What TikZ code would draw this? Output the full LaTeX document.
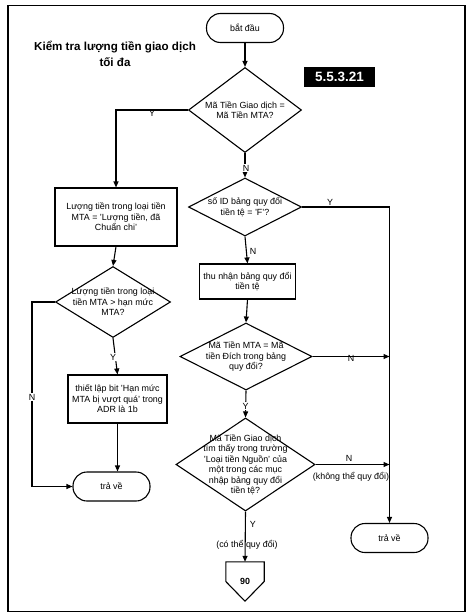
\documentclass[tikz,border=0pt]{standalone}
\usepackage{fontspec}
\setmainfont{Liberation Sans}
\usetikzlibrary{arrows.meta,calc,shapes.geometric}
\tikzset{
  x=1pt,y=-1pt,
  line/.style={line width=1.1pt,draw=black},
  arr/.style={line, -{Triangle[length=6pt,width=5pt]}},
  txt/.style={font=\fontsize{8.9}{10.5}\selectfont, align=center, inner sep=0pt},
  procbox/.style={line, rectangle, inner sep=0pt, txt},
  termbox/.style={line, rectangle, rounded corners=14pt, inner sep=0pt, txt, minimum width=77pt, minimum height=29pt},
  dia/.style={line, diamond, inner sep=0pt},
  lbl/.style={font=\fontsize{8.9}{10}\selectfont, inner sep=0.6pt},
  lblw/.style={lbl, fill=white},
}
\begin{document}
\begin{tikzpicture}
\useasboundingbox (0,0) rectangle (470,615);
% frame
\node[draw, line width=1.5pt, minimum width=457pt, minimum height=606pt, inner sep=0pt] (frame) at (236.5,308.5) {};
% title
\node[font=\bfseries\fontsize{11.6}{16.5}\selectfont, align=center, inner sep=0pt] (title) at (115,54) {Kiểm tra lượng tiền giao dịch\\tối đa};
% section label
\node[fill=black, text=white, font=\bfseries\fontsize{13.5}{14}\selectfont, minimum width=71pt, minimum height=20pt, inner sep=0pt] (sec) at (339.5,77) {5.5.3.21};
% start
\node[termbox] (start) at (245,28) {bắt đầu};
% decision 1
\node[dia, minimum width=113pt, minimum height=85pt, label={[txt]center:Mã Tiền Giao dịch =\\Mã Tiền MTA?}] (d1) at (245,110) {};
% decision 2
\node[dia, minimum width=113pt, minimum height=58pt, label={[txt]center:số ID bảng quy đổi\\tiền tệ = 'F'?}] (d2) at (245,207) {};
% box 1
\node[procbox, minimum width=122pt, minimum height=58pt] (b1) at (116,217) {Lượng tiền trong loại tiền\\MTA = 'Lượng tiền, đã\\Chuẩn chi'};
% decision 3
\node[dia, minimum width=115pt, minimum height=71pt, label={[txt]center:Lượng tiền trong loại\\tiền MTA > hạn mức\\MTA?}] (d3) at (113,302) {};
% box 3
\node[procbox, minimum width=99pt, minimum height=48pt] (b3) at (117.5,399) {thiết lập bit 'Hạn mức\\MTA bị vượt quá' trong\\ADR là 1b};
% return left
\node[termbox] (r1) at (111.5,486.5) {trả về};
% box 2
\node[procbox, minimum width=96pt, minimum height=35pt] (b2) at (247.5,281.5) {thu nhận bảng quy đổi\\tiền tệ};
% decision 4
\node[dia, minimum width=132pt, minimum height=67pt, label={[txt]center:Mã Tiền MTA = Mã\\tiền Đích trong bảng\\quy đổi?}] (d4) at (246,356.5) {};
% decision 5
\node[dia, minimum width=139pt, minimum height=93pt, label={[txt]center:Mã Tiền Giao dịch\\tìm thấy trong trường\\'Loại tiền Nguồn' của\\một trong các mục\\nhập bảng quy đổi\\tiền tệ?}] (d5) at (245.5,464.5) {};
% return right
\node[termbox] (r2) at (389.5,538) {trả về};
% off-page connector
\node[minimum width=38pt, minimum height=39pt, inner sep=0pt, font=\bfseries\fontsize{8.9}{10}\selectfont] (c90) at (245,581.5) {90};
\draw[line] (c90.north west) -- (c90.north east) -- (c90.east) -- (c90.south) -- (c90.west) -- cycle;

% connectors
\draw[arr] (start.south) -- (d1.north);
\draw[arr] (d1.west) -| (b1.north);
\node[lbl, anchor=north] (y1) at (152,110) {Y};
\draw[arr] (d1.south) -- (d2.north);
\node[lblw] (n1) at (246,168) {N};
\draw[arr] (d2.east) -| (r2.north);
\node[lbl, anchor=south] (y2) at (330,206) {Y};
\draw[arr] (d2.south) -- (b2.north);
\node[lbl, anchor=west] (n2) at (249,251) {N};
\draw[arr] (b2.south) -- (d4.north);
\coordinate (j4) at (r2.north |- d4.east);
\draw[arr] (d4.east) -- (j4);
\node[lbl, anchor=north] (n4) at (351,355) {N};
\draw[arr] (d4.south) -- (d5.north);
\node[lblw] (y4) at (245.5,406) {Y};
\coordinate (j5) at (r2.north |- d5.east);
\draw[arr] (d5.east) -- (j5);
\node[lbl, anchor=south] (n5) at (349,462) {N};
\node[lbl, anchor=north] (nq) at (351,472) {(không thể quy đổi)};
\draw[arr] (d5.south) -- (c90.north);
\node[lbl, anchor=west] (y5) at (249,524) {Y};
\node[lbl] (yq) at (247,545) {(có thể quy đổi)};
\draw[arr] (b1.south) -- (d3.north);
\draw[arr] (d3.south) -- (b3.north);
\node[lblw] (y3) at (113,357) {Y};
\coordinate (k1) at (32,302);
\coordinate (k2) at (32,486.5);
\draw[arr] (d3.west) -- (k1) -- (k2) -- (r1.west);
\node[lblw] (n3) at (32,397) {N};
\draw[arr] (b3.south) -- (b3.south |- r1.north);
\end{tikzpicture}
\end{document}
